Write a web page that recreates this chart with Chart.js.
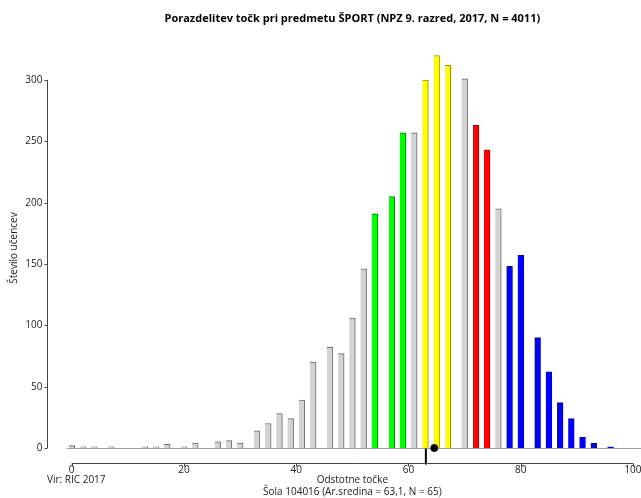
<!DOCTYPE html>
<html>
<head>
<meta charset="utf-8">
<script src="https://cdn.jsdelivr.net/npm/chart.js@4"></script>
<style>
  html, body { margin: 0; padding: 0; background: #fff; overflow: hidden; }
  canvas { display: block; }
</style>
</head>
<body>
<canvas id="chart" width="641" height="498"></canvas>
<script>
// percent score of each bar and number of pupils
const scores = [0, 2, 4, 7, 13, 15, 17, 20, 22, 26, 28, 30, 33, 35, 37, 39, 41, 43, 46, 48, 50, 52,
  54, 57, 59, 61, 63, 65, 67, 70, 72, 74, 76, 78, 80, 83, 85, 87, 89, 91, 93, 96];
const counts = [2, 1, 1, 1, 1, 1, 3, 1, 4, 5, 6, 4, 14, 20, 28, 24, 39, 70, 82, 77, 106, 146,
  191, 205, 257, 257, 300, 320, 312, 301, 263, 243, 195, 148, 157, 90, 62, 37, 24, 9, 4, 1];

// colour bands
const greenScores = [54, 57, 59];
const yellowScores = [63, 65, 67];
const redScores = [72, 74];
const blueScores = [78, 80, 83, 85, 87, 89, 91, 93, 96];

const xTicks = [0, 20, 40, 60, 80, 100];
const yTicks = [0, 50, 100, 150, 200, 250, 300];

const schoolMean = 63.1;
const markerScore = 64.6;

const titleText = "Porazdelitev točk pri predmetu ŠPORT (NPZ 9. razred, 2017, N = 4011)";
const xTitle = "Odstotne točke";
const yTitle = "Število učencev";
const sourceText = "Vir: RIC 2017";
const schoolText = "Šola 104016 (Ar.sredina = 63,1, N = 65)";

const FONT = '"Open Sans", "DejaVu Sans", sans-serif';

function fillFor(s) {
  if (greenScores.includes(s)) return "#00ff00";
  if (yellowScores.includes(s)) return "#ffff00";
  if (redScores.includes(s)) return "#ff0000";
  if (blueScores.includes(s)) return "#0000ff";
  return "#d3d3d3";
}
function edgeFor(s) {
  if (greenScores.includes(s)) return "#0a6a0a";
  if (yellowScores.includes(s)) return "#8a8a20";
  if (redScores.includes(s)) return "#8a1010";
  if (blueScores.includes(s)) return "#101060";
  return "#6a6a6a";
}

const axesPlugin = {
  id: "axesPlugin",
  beforeDatasetsDraw(chart) {
    const { ctx } = chart;
    const xs = chart.scales.x, ys = chart.scales.y;
    const y0 = Math.round(ys.getPixelForValue(0)) + 0.5;
    ctx.save();
    // zero baseline
    ctx.strokeStyle = "#a0a0a0";
    ctx.lineWidth = 1;
    ctx.beginPath();
    ctx.moveTo(xs.getPixelForValue(-0.9), y0);
    ctx.lineTo(chart.width, y0);
    ctx.stroke();
    // school mean marker
    const mx = xs.getPixelForValue(schoolMean);
    ctx.strokeStyle = "#000";
    ctx.lineWidth = 2;
    ctx.beginPath();
    ctx.moveTo(mx, y0);
    ctx.lineTo(mx, y0 + 16);
    ctx.stroke();
    ctx.restore();
  },
  afterDraw(chart) {
    const { ctx } = chart;
    const xs = chart.scales.x, ys = chart.scales.y;
    const axisY = Math.round(ys.getPixelForValue(0)) + 15.5;
    const axisX = 47.5;
    ctx.save();
    ctx.strokeStyle = "#444";
    ctx.lineWidth = 1;
    ctx.fillStyle = "#222";
    ctx.font = "10px " + FONT;

    // y axis
    ctx.beginPath();
    ctx.moveTo(axisX, ys.getPixelForValue(yTicks[0]));
    ctx.lineTo(axisX, ys.getPixelForValue(yTicks[yTicks.length - 1]));
    yTicks.forEach(t => {
      const py = Math.round(ys.getPixelForValue(t)) + 0.5;
      ctx.moveTo(axisX, py);
      ctx.lineTo(axisX - 3, py);
    });
    ctx.stroke();
    ctx.textAlign = "right";
    ctx.textBaseline = "middle";
    yTicks.forEach(t => ctx.fillText(String(t), axisX - 5, ys.getPixelForValue(t)));

    // x axis
    ctx.beginPath();
    ctx.moveTo(xs.getPixelForValue(xTicks[0]), axisY);
    ctx.lineTo(xs.getPixelForValue(xTicks[xTicks.length - 1]), axisY);
    xTicks.forEach(t => {
      const px = Math.round(xs.getPixelForValue(t)) + 0.5;
      ctx.moveTo(px, axisY);
      ctx.lineTo(px, axisY + 3);
    });
    ctx.stroke();
    ctx.textAlign = "center";
    ctx.textBaseline = "top";
    xTicks.forEach(t => ctx.fillText(String(t), xs.getPixelForValue(t), axisY + 2));

    // titles and notes
    const midX = (xs.getPixelForValue(0) + xs.getPixelForValue(100)) / 2;
    ctx.textBaseline = "middle";
    ctx.fillText(xTitle, midX, 480);
    ctx.fillText(schoolText, midX, 492);
    ctx.textAlign = "left";
    ctx.fillText(sourceText, 47, 480);

    ctx.font = "bold 11px " + FONT;
    ctx.textAlign = "center";
    ctx.fillStyle = "#000";
    ctx.fillText(titleText, midX, 19);

    ctx.font = "10px " + FONT;
    ctx.fillStyle = "#222";
    ctx.translate(14, 248);
    ctx.rotate(-Math.PI / 2);
    ctx.fillText(yTitle, 0, 0);
    ctx.restore();
  }
};

new Chart(document.getElementById("chart"), {
  type: "bar",
  data: {
    datasets: [
      {
        type: "scatter",
        data: [{ x: markerScore, y: 0 }],
        backgroundColor: "#000",
        borderColor: "#000",
        pointRadius: 3.5,
        clip: false,
        order: 0
      },
      {
        data: scores.map((s, i) => ({ x: s, y: counts[i] })),
        backgroundColor: scores.map(fillFor),
        borderColor: scores.map(edgeFor),
        borderWidth: { top: 1, right: 1, left: 0, bottom: 0 },
        borderSkipped: "bottom",
        barThickness: 6,
        grouped: false,
        clip: false,
        order: 1
      }
    ]
  },
  options: {
    responsive: false,
    animation: false,
    events: [],
    layout: { autoPadding: false, padding: { left: 48, right: 0, top: 80, bottom: 50 } },
    scales: {
      x: { type: "linear", display: false, offset: false, min: -4.22, max: 101.43 },
      y: { display: false, min: 0, max: 300 }
    },
    plugins: {
      legend: { display: false },
      tooltip: { enabled: false }
    }
  },
  plugins: [axesPlugin]
});
</script>
</body>
</html>
